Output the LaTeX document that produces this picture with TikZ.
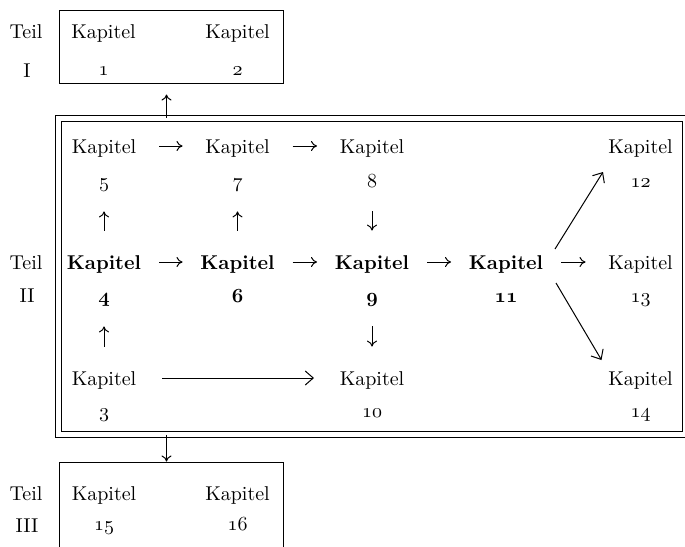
\documentclass[tikz,border=0pt]{standalone}
\usepackage{tikz}
\usetikzlibrary{arrows.meta}

\newcommand{\nr}[1]{$\oldstylenums{#1}$}
\newcommand{\nrb}[1]{{\boldmath$\oldstylenums{#1}$}}

\tikzset{
	kap/.style={inner sep=0pt, text height=7pt, text depth=0pt, anchor=base},
	rahmen/.style={draw, line width=0.5pt, inner sep=0pt},
	kpfeil/.style={line width=0.5pt, -{To[length=3pt,width=5pt]}},
	hpfeil/.style={kpfeil, shorten <=27.5pt, shorten >=27.5pt},
	vpfeil/.style={kpfeil, shorten <=12pt, shorten >=12pt},
	langpfeil/.style={line width=0.5pt, -{Straight Barb[length=4pt,width=7pt]}}
}

\begin{document}
\begin{tikzpicture}[x=0.5pt, y=-0.5pt]
	\useasboundingbox (0,0) rectangle (685,546);
	\node[rahmen, minimum width=112.25pt, minimum height=36.5pt] (teilA) at (171.25,46.5) {};
	\node[rahmen, double, double distance=2.75pt, minimum width=313.75pt, minimum height=158pt] (teilB) at (372,276.25) {};
	\node[rahmen, minimum width=112.25pt, minimum height=49pt] (teilC) at (171.25,511) {};
	\coordinate (mitte) at (166.5,100);

	\node[kap] (t1) at (26,39) {Teil};
	\node[kap] (t1r) at (27,77) {I};
	\node[kap] (t2) at (26,269) {Teil};
	\node[kap] (t2r) at (27,302) {II};
	\node[kap] (t3) at (26,500) {Teil};
	\node[kap] (t3r) at (27,532) {III};

	\node[kap] (k1) at (103.5,39) {Kapitel};
	\node[kap] (n1) at (103.5,75) {\nr{1}};
	\node[kap] (k2) at (237.5,39) {Kapitel};
	\node[kap] (n2) at (237.5,75) {\nr{2}};

	\node[kap] (k5) at (104,153) {Kapitel};
	\node[kap] (n5) at (104,187) {\nr{5}};
	\node[kap] (k7) at (237.5,153) {Kapitel};
	\node[kap] (n7) at (237.5,187) {\nr{7}};
	\node[kap] (k8) at (372,153) {Kapitel};
	\node[kap] (n8) at (372,187) {\nr{8}};
	\node[kap] (k12) at (640.5,153) {Kapitel};
	\node[kap] (n12) at (640.5,187) {\nr{12}};

	\node[kap] (k4) at (104,269) {\bfseries Kapitel};
	\node[kap] (n4) at (104,302) {\nrb{4}};
	\node[kap] (k6) at (237.5,269) {\bfseries Kapitel};
	\node[kap] (n6) at (237.5,302) {\nrb{6}};
	\node[kap] (k9) at (372,269) {\bfseries Kapitel};
	\node[kap] (n9) at (372,302) {\nrb{9}};
	\node[kap] (k11) at (506,269) {\bfseries Kapitel};
	\node[kap] (n11) at (506,302) {\nrb{11}};
	\node[kap] (k13) at (640.5,269) {Kapitel};
	\node[kap] (n13) at (640.5,302) {\nr{13}};

	\node[kap] (k3) at (104,385) {Kapitel};
	\node[kap] (n3) at (104,417) {\nr{3}};
	\node[kap] (k10) at (372,385) {Kapitel};
	\node[kap] (n10) at (372,417) {\nr{10}};
	\node[kap] (k14) at (640.5,385) {Kapitel};
	\node[kap] (n14) at (640.5,417) {\nr{14}};

	\node[kap] (k15) at (104,500) {Kapitel};
	\node[kap] (n15) at (104,530) {\nr{15}};
	\node[kap] (k16) at (237.5,500) {Kapitel};
	\node[kap] (n16) at (237.5,530) {\nr{16}};

	\draw[kpfeil, shorten >=5.5pt] (teilB.north -| mitte) -- (teilA.south -| mitte);
	\draw[kpfeil] (teilB.south -| mitte) -- (teilC.north -| mitte);

	\draw[hpfeil] (k5.center) -- (k7.center);
	\draw[hpfeil] (k7.center) -- (k8.center);
	\draw[hpfeil] (k4.center) -- (k6.center);
	\draw[hpfeil] (k6.center) -- (k9.center);
	\draw[hpfeil] (k9.center) -- (k11.center);
	\draw[hpfeil] (k11.center) -- (k13.center);

	\draw[vpfeil] (k4) -- (n5);
	\draw[vpfeil] (k6) -- (n7);
	\draw[vpfeil] (n8) -- (k9);
	\draw[vpfeil] (k3) -- (n4);
	\draw[vpfeil] (n9) -- (k10);

	\draw[langpfeil, shorten <=29pt, shorten >=29pt] (k3.center) -- (k10.center);
	\draw[langpfeil] ([shift={(49,-13)}]k11.center) -- ([shift={(-37.5,-8)}]n12.center);
	\draw[langpfeil] ([shift={(50,21)}]k11.center) -- ([shift={(-39,-18)}]k14.center);
\end{tikzpicture}
\end{document}
